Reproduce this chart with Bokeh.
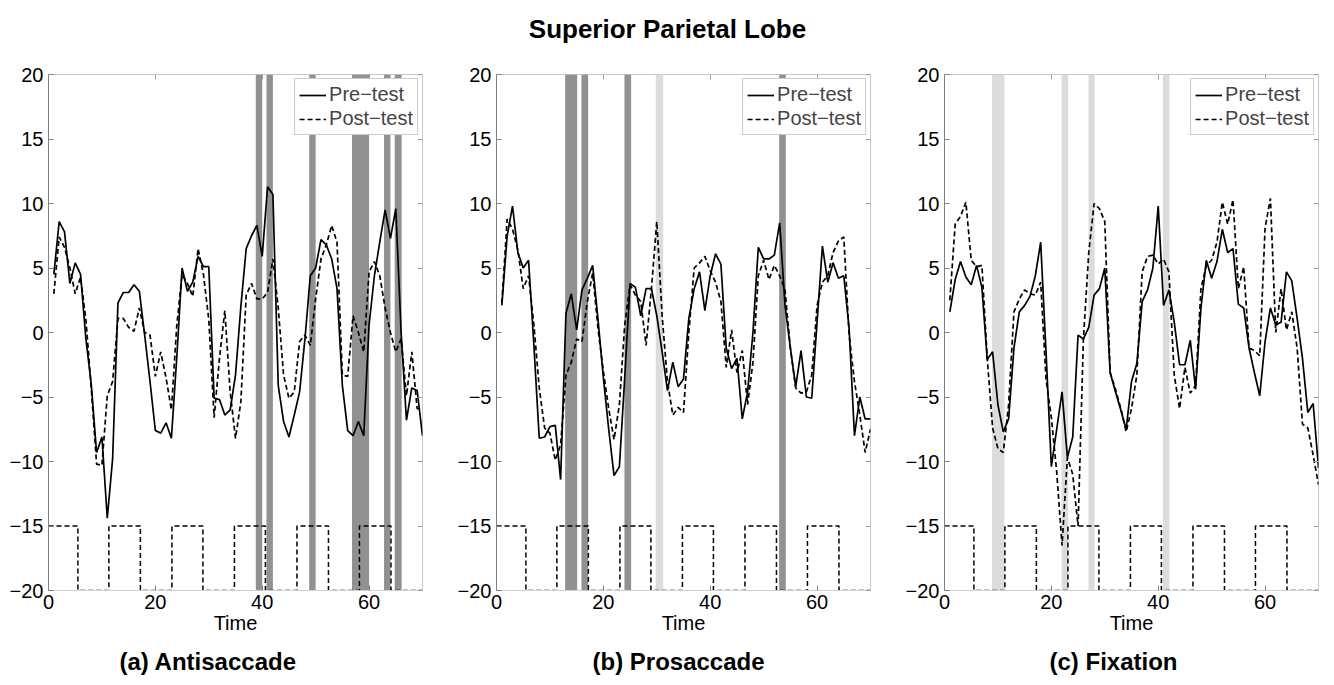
from bokeh.plotting import figure
from bokeh.models import Range1d, LinearAxis, FixedTicker, Legend, LegendItem, Title, CustomLabelingPolicy
from bokeh.layouts import column, row
from bokeh.embed import file_html
from bokeh.resources import INLINE
from bokeh.core.properties import value

# ---------------- data ----------------
time = list(range(1, 71))

pre_anti = [4.5, 8.6, 7.8, 3.8, 5.4, 4.5, -0.5, -4.0, -9.3, -8.1, -14.4, -9.8, 2.3, 3.1, 3.1, 3.7, 3.2, -0.2, -3.8, -7.6,
            -7.8, -7.0, -8.2, -2.0, 5.0, 3.2, 3.9, 5.9, 5.1, 5.1, -5.1, -5.2, -6.4, -6.0, -3.3, 2.0, 6.5, 7.5, 8.3, 5.9,
            11.3, 10.7, -4.1, -6.9, -8.1, -6.4, -4.6, -0.5, 4.4, 5.0, 7.2, 6.8, 5.7, 3.4, -4.1, -7.6, -8.0, -6.9, -8.0, 0.6,
            4.4, 7.0, 9.5, 7.3, 9.6, 0.0, -6.8, -4.3, -4.5, -8.0]
post_anti = [3.0, 7.4, 6.6, 5.0, 3.0, 4.3, 1.0, -4.3, -10.2, -10.3, -4.9, -3.8, 1.1, 1.1, 0.4, 0.1, 1.9, 0.0, -0.2, -3.4,
             -1.5, -3.5, -6.0, 0.5, 4.5, 3.8, 2.8, 6.5, 4.5, 1.0, -6.6, -2.0, 1.7, -4.6, -8.2, -5.4, 2.9, 3.8, 2.6, 2.6,
             3.1, 5.7, 1.9, -3.3, -5.1, -4.6, -0.7, -0.2, -1.0, 2.6, 5.7, 6.8, 8.3, 7.0, -3.3, -3.4, 1.3, 0.0, -1.5, 4.7,
             5.5, 4.4, 1.9, 0.0, -1.5, -0.5, -4.9, -1.5, -5.9, -5.9]

pre_pro = [2.1, 7.5, 9.8, 6.2, 5.0, 5.6, -1.0, -8.2, -8.1, -7.3, -7.2, -11.4, 1.5, 3.0, 0.2, 3.3, 4.2, 5.2, 1.0, -3.5,
           -7.5, -11.1, -10.4, -3.5, 3.8, 3.5, 1.3, 3.4, 3.4, 1.3, -1.5, -4.5, -2.3, -4.2, -3.6, 1.1, 3.4, 4.7, 1.7, 4.4,
           6.1, 5.3, -1.2, -2.8, -2.0, -6.7, -4.6, 0.0, 6.6, 5.7, 5.7, 6.0, 8.5, 2.1, -1.2, -4.2, -1.4, -5.0, -5.1, 0.8,
           6.7, 3.9, 5.4, 4.2, 4.4, 0.3, -8.0, -5.0, -6.7, -6.7]
post_pro = [2.3, 8.8, 8.0, 6.4, 3.4, 4.4, 0.6, -4.3, -7.4, -7.8, -9.9, -8.7, -3.3, -2.3, -0.5, -0.7, 2.4, 4.6, 0.3, -3.0,
            -5.9, -8.3, -5.6, 0.6, 3.7, 2.9, 2.4, -1.0, 3.4, 8.6, 1.3, -3.8, -6.4, -5.8, -6.2, 0.0, 5.0, 5.4, 5.9, 4.8,
            3.9, 2.4, -2.7, 0.2, -3.1, -1.4, -5.6, -2.3, 4.4, 5.6, 4.1, 5.2, 4.4, 3.3, -1.2, -4.3, -4.7, -4.6, -3.3, 2.1,
            3.9, 4.4, 6.2, 7.1, 7.4, -0.2, -3.8, -6.4, -9.3, -7.5]

pre_fix = [1.6, 4.1, 5.5, 4.3, 3.7, 5.2, 3.5, -2.1, -1.5, -5.6, -7.7, -6.7, -1.2, 1.6, 2.1, 2.8, 4.4, 7.0, -1.5, -10.4,
           -7.5, -4.6, -9.7, -8.1, -0.2, -0.5, 0.4, 2.9, 3.4, 5.0, -3.1, -4.6, -6.0, -7.5, -3.8, -2.4, 2.4, 3.3, 5.0, 9.8,
           2.1, 3.3, 0.8, -2.5, -2.5, -0.6, -4.4, 1.9, 5.6, 4.2, 5.5, 8.0, 6.2, 6.5, 2.2, 1.9, -1.2, -3.1, -4.9, -0.7,
           1.9, 0.6, 0.8, 4.7, 4.0, 1.1, -2.0, -6.2, -5.5, -10.5]
post_fix = [2.5, 8.4, 9.0, 10.1, 5.6, 5.1, 5.2, -2.0, -7.4, -9.0, -9.3, -5.6, 1.6, 2.6, 3.3, 3.0, 2.9, 3.9, -3.6, -6.6,
            -10.8, -16.5, -9.7, -11.0, -15.0, -0.5, 6.2, 10.0, 9.6, 8.6, -3.1, -4.4, -5.9, -7.7, -5.9, -3.3, 4.7, 5.9, 6.0, 5.3,
            5.7, 4.7, -3.3, -5.9, -2.7, -4.7, -4.1, 3.4, 5.2, 5.6, 7.0, 10.1, 8.4, 10.3, 3.4, 5.1, -1.2, -1.4, -1.8, 8.1,
            10.4, 0.0, 3.4, 0.2, 1.6, -1.2, -7.1, -7.4, -9.5, -11.8]

# task block design (on = -15, off = -20)
block_edges = [0, 5.5, 11.3, 17.2, 23.1, 28.9, 34.8, 40.6, 46.5, 52.4, 58.2, 64.1, 70]
block_levels = [-15, -20, -15, -20, -15, -20, -15, -20, -15, -20, -15, -20, -20]

# significant time windows (start, end, level)
anti_start = [38.8, 40.8, 48.8, 56.8, 62.8, 64.8]
anti_end = [40.0, 42.0, 50.0, 60.0, 64.0, 66.1]
anti_level = ["high", "high", "high", "high", "high", "high"]
pro_start = [12.85, 15.9, 23.95, 29.8, 52.9]
pro_end = [15.1, 17.15, 25.2, 31.2, 54.15]
pro_level = ["high", "high", "high", "low", "high"]
fix_start = [8.9, 21.9, 26.95, 40.9]
fix_end = [11.2, 23.15, 28.1, 42.1]
fix_level = ["low", "low", "low", "low"]

x_ticks = [0, 20, 40, 60]
y_ticks = [-20, -15, -10, -5, 0, 5, 10, 15, 20]
y_tick_labels = ["\u221220", "\u221215", "\u221210", "\u22125", "0", "5", "10", "15", "20"]

main_title = "Superior Parietal Lobe"
subtitles = ["(a) Antisaccade", "(b) Prosaccade", "(c) Fixation"]
legend_labels = ["Pre\u2212test", "Post\u2212test"]
x_label = "Time"

# ---------------- style ----------------
FONT = "Liberation Sans"
LEVEL_COLOR = {"high": "#919191", "low": "#dcdcdc"}
DASH = "5 3"
NO_LABELS = CustomLabelingPolicy(code="""
for (const i of indices) { indices.unset(i) }
return indices
""")


def make_panel(pre, post, bstart, bend, blevel, subtitle, width, right_border, sub_offset):
    p = figure(width=width, height=624, x_range=Range1d(0, 70), y_range=Range1d(-20, 20),
               output_backend="svg", toolbar_location=None,
               min_border_left=48, min_border_right=right_border, min_border_top=14, min_border_bottom=93,
               x_axis_label=x_label)
    p.grid.visible = False
    p.outline_line_color = "#c8c8c8"
    p.background_fill_color = "white"
    p.border_fill_color = "white"

    p.quad(left=bstart, right=bend, bottom=-20, top=20,
           fill_color=[LEVEL_COLOR[l] for l in blevel], line_color=None)
    p.step(block_edges, block_levels, mode="after", line_color="black", line_dash=DASH, line_width=1.5)
    r_pre = p.line(time, pre, line_color="black", line_width=1.7)
    r_post = p.line(time, post, line_color="black", line_width=1.7, line_dash=DASH)

    xa = p.xaxis[0]
    xa.ticker = FixedTicker(ticks=x_ticks)
    ya = p.yaxis[0]
    ya.ticker = FixedTicker(ticks=y_ticks)
    ya.major_label_overrides = {t: l for t, l in zip(y_ticks, y_tick_labels)}
    for ax, col in ((xa, "#d0d0d0"), (ya, "#808080")):
        ax.axis_line_color = col
        ax.major_tick_line_color = "#808080"
        ax.major_tick_in = 5
        ax.major_tick_out = 0
        ax.minor_tick_line_color = None
        ax.major_label_text_font = FONT
        ax.major_label_text_font_size = "20px"
        ax.major_label_text_color = "black"
        ax.axis_label_text_font = FONT
        ax.axis_label_text_font_size = "20px"
        ax.axis_label_text_font_style = "normal"
        ax.axis_label_text_color = "black"
    ya.major_label_standoff = 5
    xa.major_label_standoff = 4
    xa.axis_label_standoff = 0

    for loc, ticks in (("right", y_ticks), ("above", x_ticks)):
        ax = LinearAxis(ticker=FixedTicker(ticks=ticks), major_label_policy=NO_LABELS)
        ax.axis_line_color = None
        ax.major_tick_line_color = "#a0a0a0"
        ax.major_tick_in = 5
        ax.major_tick_out = 0
        ax.minor_tick_line_color = None
        ax.major_label_standoff = 0
        ax.major_label_text_font_size = "1px"
        p.add_layout(ax, loc)

    legend = Legend(items=[LegendItem(label=legend_labels[0], renderers=[r_pre]),
                           LegendItem(label=legend_labels[1], renderers=[r_post])],
                    location="top_right")
    legend.label_text_font = FONT
    legend.label_text_font_size = "20px"
    legend.label_standoff = 3
    legend.glyph_width = 27
    legend.glyph_height = 20
    legend.label_height = 20
    legend.spacing = 1
    legend.padding = 4
    legend.margin = 4
    legend.border_line_color = "#9a9a9a"
    legend.border_line_width = 1
    legend.background_fill_alpha = 1.0
    p.add_layout(legend)

    p.add_layout(Title(text=subtitle, align="left", text_font=FONT, text_font_size="24px",
                       text_font_style="bold", text_color="black", standoff=19, offset=sub_offset), "below")
    return p


p1 = make_panel(pre_anti, post_anti, anti_start, anti_end, anti_level, subtitles[0], 448, 26, 71)
p2 = make_panel(pre_pro, post_pro, pro_start, pro_end, pro_level, subtitles[1], 448, 26, 96)
p3 = make_panel(pre_fix, post_fix, fix_start, fix_end, fix_level, subtitles[2], 438, 16, 105)

pt = figure(width=1334, height=60, x_range=Range1d(0, 1), y_range=Range1d(0, 1),
            output_backend="svg", toolbar_location=None, x_axis_type=None, y_axis_type=None,
            min_border=0)
pt.outline_line_color = None
pt.grid.visible = False
pt.text(x=[0.5], y=[0.52], text=[main_title], text_align="center", text_baseline="middle",
        text_font=value(FONT), text_font_size="26px", text_font_style="bold", text_color="black")

layout = column(pt, row(p1, p2, p3, spacing=0), spacing=0)
open("out.html", "w").write(file_html(layout, INLINE))
